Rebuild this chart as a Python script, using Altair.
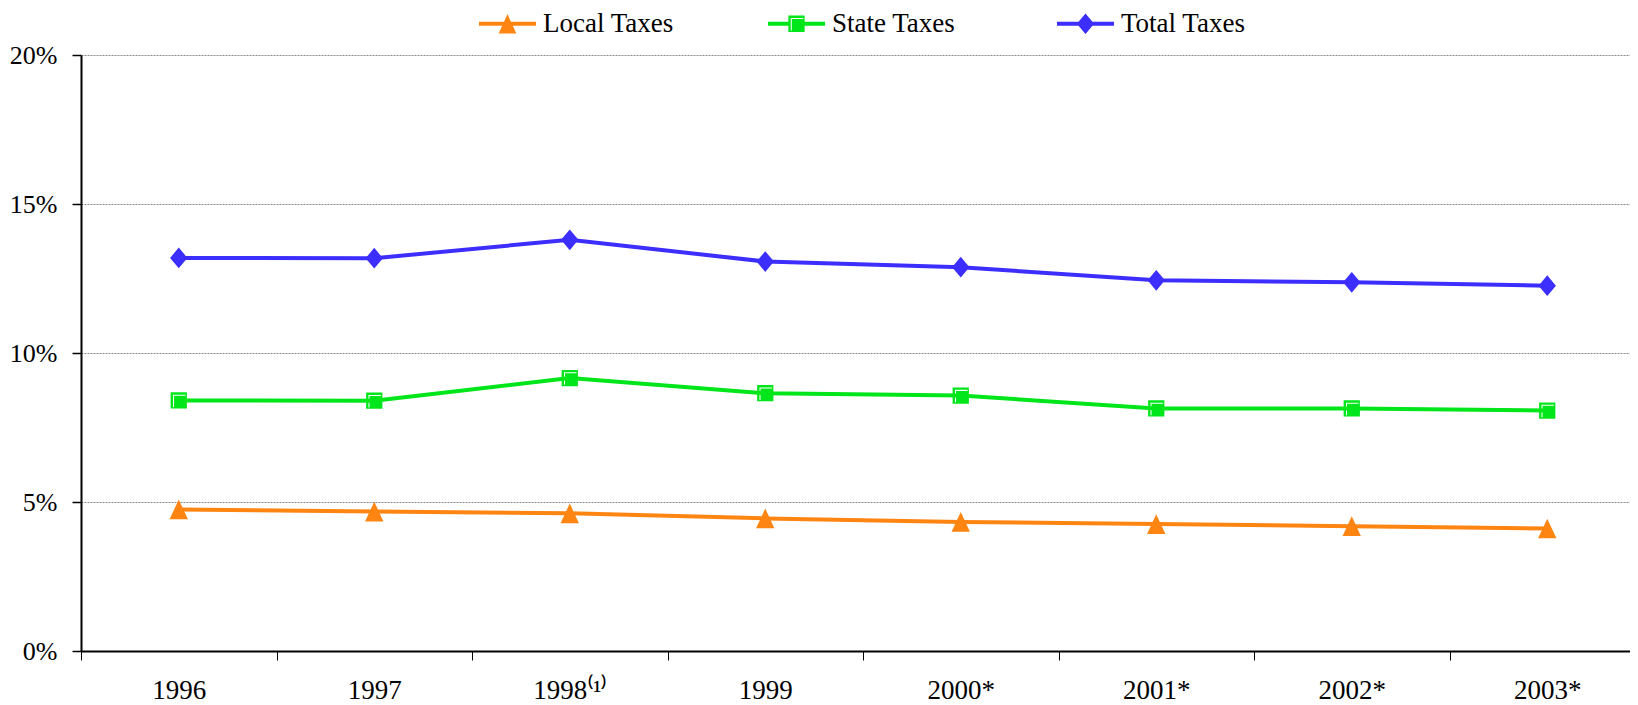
import altair as alt
import pandas as pd

# ---- data ----
years = ["1996", "1997", "1998⁽¹⁾", "1999", "2000*", "2001*", "2002*", "2003*"]
series_names = ["Local Taxes", "State Taxes", "Total Taxes"]
local_taxes = [4.75, 4.68, 4.62, 4.45, 4.33, 4.26, 4.19, 4.11]
state_taxes = [8.41, 8.40, 9.16, 8.65, 8.57, 8.14, 8.14, 8.07]
total_taxes = [13.19, 13.18, 13.80, 13.07, 12.88, 12.44, 12.37, 12.26]
y_ticks = [0, 0.05, 0.10, 0.15, 0.20]

# ---- styles ----
series_colors = ["#FF8512", "#00E61A", "#3C2EFF"]
FONT = "Liberation Serif"

TRI = "M0,-0.95L0.885,0.95L-0.885,0.95Z"
SQ = ("M-0.785,-0.785H0.785V0.785H-0.785Z "
      "M-0.555,-0.555V0.65H-0.455V-0.455H0.65V-0.555Z")
DIA = "M-0.835,0L0,-1L0.835,0L0,1Z"

LEG_TRI = "M-2.75,-0.2H2.75V0.2H-2.75Z M0,-0.93L0.85,0.93L-0.85,0.93Z"
LEG_SQ = ("M-2.75,-0.2H-0.785V0.2H-2.75Z M0.785,-0.2H2.75V0.2H0.785Z " + SQ)
LEG_DIA = "M-2.75,-0.2H2.75V0.2H-2.75Z " + DIA

rows = []
for name, vals in zip(series_names, [local_taxes, state_taxes, total_taxes]):
    for i, (yr, v) in enumerate(zip(years, vals)):
        rows.append({"year": yr, "idx": i, "series": name, "value": v / 100})
df = pd.DataFrame(rows)

x_enc = alt.X(
    "year:N",
    sort=years,
    scale=alt.Scale(type="band", paddingInner=0, paddingOuter=0),
    axis=alt.Axis(
        title=None, labelAngle=0, tickBand="extent", grid=False,
        domainColor="black", domainWidth=2, tickColor="black", tickWidth=1,
        tickSize=9, labelFont=FONT, labelFontSize=27, labelColor="black",
        labelPadding=17,
    ),
)
y_enc = alt.Y(
    "value:Q",
    scale=alt.Scale(domain=[0, 0.2], nice=False),
    axis=alt.Axis(
        title=None, values=y_ticks, format=".0%", grid=True,
        gridColor="#8a8a8a", gridDash=[2, 1], gridWidth=1,
        domainColor="black", domainWidth=2, tickColor="black", tickWidth=1.5,
        tickSize=9, labelFont=FONT, labelFontSize=26, labelColor="black",
        labelPadding=15,
    ),
)

base = alt.Chart(df).encode(x=x_enc, y=y_enc)


def series_layers(name, color, path):
    sub = base.transform_filter(alt.datum.series == name)
    ln = sub.mark_line(strokeWidth=4, color=color).encode(order=alt.Order("idx:Q"))
    pt = sub.mark_point(shape=path, filled=True, size=430, opacity=1,
                        strokeWidth=0, color=color)
    return [ln, pt]


leg = alt.Legend(
    title=None, orient="none", direction="horizontal",
    legendX=413, legendY=-45,
    symbolSize=430, symbolStrokeWidth=0,
    labelFont=FONT, labelFontSize=27, labelColor="black",
    labelOffset=22, columnPadding=93, gridAlign="all",
    padding=0, labelLimit=400,
)

legend_layer = (
    base.mark_point(filled=True, size=430, opacity=1, strokeWidth=0)
    .encode(
        color=alt.Color("series:N",
                        scale=alt.Scale(domain=series_names, range=series_colors),
                        legend=leg),
        shape=alt.Shape(
            "series:N",
            scale=alt.Scale(domain=series_names, range=[LEG_TRI, LEG_SQ, LEG_DIA]),
            legend=leg,
        ),
    )
    .transform_filter("false")
)

layers = []
for name, color, path in zip(series_names, series_colors, [TRI, SQ, DIA]):
    layers += series_layers(name, color, path)
layers.append(legend_layer)

chart = (
    alt.layer(*layers)
    .properties(
        width=1564,
        height=596,
        autosize=alt.AutoSizeParams(type="none"),
        padding={"left": 73, "top": 47, "right": -15, "bottom": 54},
        background="white",
    )
    .configure_view(stroke=None)
)

chart.save("out.html", embed_options={"renderer": "svg", "actions": False})
